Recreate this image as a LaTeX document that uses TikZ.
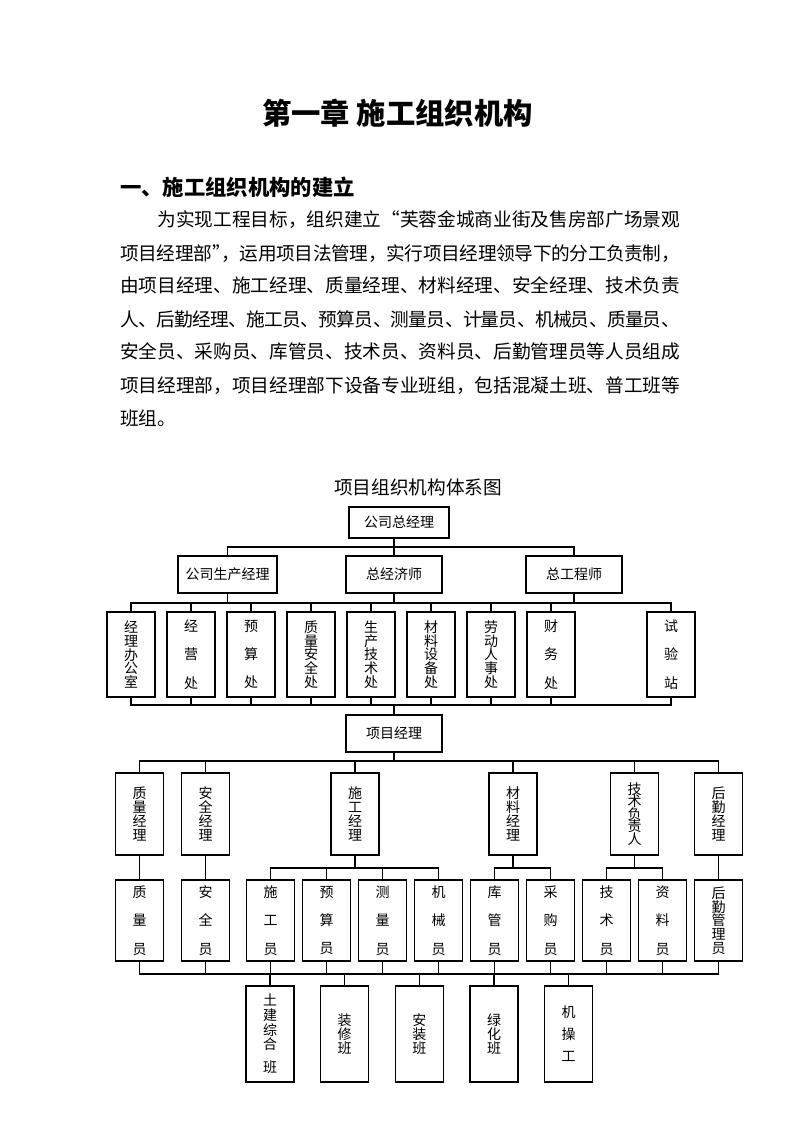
\documentclass[tikz,border=0pt]{standalone}
\usepackage{fontspec}
\setmainfont{Noto Sans CJK SC}
\usetikzlibrary{positioning}
\XeTeXlinebreaklocale "zh"
\XeTeXlinebreakskip=0pt plus 2pt minus 1pt

\begin{document}
\begin{tikzpicture}[
  x=0.75pt,y=-0.75pt,
  node distance=9pt,
  box/.style={draw,line width=0.8pt,inner sep=0pt,outer sep=0pt,font={\fontsize{10.5pt}{12pt}\selectfont}},
  col/.style={box,align=center,minimum width=36pt},
  dept/.style={col,minimum height=63.75pt},
  mgr/.style={col,minimum height=61.5pt},
  staff/.style={col,minimum height=60.75pt},
  team/.style={col,minimum height=72pt},
  tight/.style={font={\fontsize{10.5pt}{10.3pt}\selectfont\lineskiplimit=-20pt}},
  mid/.style={font={\fontsize{10.5pt}{16.5pt}\selectfont\lineskiplimit=-20pt}},
  loose/.style={font={\fontsize{10.5pt}{21.3pt}\selectfont\lineskiplimit=-20pt}},
  link/.style={line width=0.8pt}
]
\useasboundingbox (0,0) rectangle (794,1123);

% heading and text
\node[font={\fontsize{22pt}{26pt}\selectfont\bfseries}] (chap) at (397.5,113) {第一章 施工组织机构};
\node[anchor=west,inner sep=0pt,font={\fontsize{16pt}{20pt}\selectfont\bfseries}] (sec) at (120,187) {一、施工组织机构的建立};
\node[anchor=base west,inner sep=0pt,text width=420pt,align=justify,font={\fontsize{14pt}{24.75pt}\selectfont}] (para) at (120,227) {\hspace*{28pt}为实现工程目标，组织建立“芙蓉金城商业街及售房部广场景观\linebreak
项目经理部”\kern-7pt，运用项目法管理，实行项目经理领导下的分工负责制，\linebreak
由项目经理、施工经理、质量经理、材料经理、安全经理、技术负责\linebreak
人、后勤经理、施工员、预算员、测量员、计量员、机械员、质量员、\linebreak
安全员、采购员、库管员、技术员、资料员、后勤管理员等人员组成\linebreak
项目经理部，项目经理部下设备专业班组，包括混凝土班、普工班等\linebreak
班组。};
\node[font={\fontsize{14pt}{16pt}\selectfont}] (chart) at (418,487) {项目组织机构体系图};

% company level
\node[box,minimum width=75pt,minimum height=23.25pt] (gszjl) at (399,522.5) {公司总经理};
\node[box,minimum width=74.25pt,minimum height=27.75pt] (scjl) at (227.5,574.5) {公司生产经理};
\node[box,minimum width=72pt,minimum height=27.75pt] (zjjs) at (394,574.5) {总经济师};
\node[box,minimum width=72pt,minimum height=27.75pt] (zgcs) at (574,574.5) {总工程师};

% departments
\node[dept,tight] (jlbgs) at (131,654.5) {经\\理\\办\\公\\室};
\node[dept,loose,right=of jlbgs] (jyc) {经\\营\\处};
\node[dept,loose,right=of jyc] (ysc) {预\\算\\处};
\node[dept,tight,right=of ysc] (zlaq) {质\\量\\安\\全\\处};
\node[dept,tight,right=of zlaq] (scjs) {生\\产\\技\\术\\处};
\node[dept,tight,right=of scjs] (clsb) {材\\料\\设\\备\\处};
\node[dept,tight,right=of clsb] (ldrs) {劳\\动\\人\\事\\处};
\node[dept,loose,right=of ldrs] (cwc) {财\\务\\处};
\node[dept,loose,right=54pt of cwc] (syz) {试\\验\\站};

\node[box,minimum width=72pt,minimum height=27.75pt] (xmjl) at (394,733.5) {项目经理};

% project managers
\node[mgr,tight] (zljl) at (139.5,814) {质\\量\\经\\理};
\node[mgr,tight] (aqjl) at (205.5,814) {安\\全\\经\\理};
\node[mgr,tight] (sgjl) at (355,814) {施\\工\\经\\理};
\node[mgr,tight] (cljl) at (513,814) {材\\料\\经\\理};
\node[mgr,font={\fontsize{10.5pt}{9.3pt}\selectfont\lineskiplimit=-20pt}] (jsfz) at (634.5,814) {技\\术\\负\\责\\人};
\node[mgr,tight] (hqjl) at (718.5,814) {后\\勤\\经\\理};

% staff
\node[staff,loose] (zly) at (139.5,920.5) {质\\量\\员};
\node[staff,loose] (aqy) at (205.5,920.5) {安\\全\\员};
\node[staff,loose] (sgy) at (270.5,920.5) {施\\工\\员};
\node[staff,loose,right=6pt of sgy] (ysy) {预\\算\\员};
\node[staff,loose,right=6pt of ysy] (cly) {测\\量\\员};
\node[staff,loose,right=6pt of cly] (jxy) {机\\械\\员};
\node[staff,loose,right=6pt of jxy] (kgy) {库\\管\\员};
\node[staff,loose,right=6pt of kgy] (cgy) {采\\购\\员};
\node[staff,loose,right=6pt of cgy] (jsy) {技\\术\\员};
\node[staff,loose,right=6pt of jsy] (zlly) {资\\料\\员};
\node[staff,tight,right=6pt of zlly] (hqgly) {后\\勤\\管\\理\\员};

% teams
\node[team,font={\fontsize{10.5pt}{11pt}\selectfont\lineskiplimit=-20pt}] (tj) at (270,1034) {土\\建\\综\\合\\[6pt]班};
\node[team,tight,right=20pt of tj] (zx) {装\\修\\班};
\node[team,tight,right=20pt of zx] (az) {安\\装\\班};
\node[team,tight,right=20pt of az] (lh) {绿\\化\\班};
\node[team,mid,right=20pt of lh] (jcg) {机\\操\\工};

% connectors
\coordinate (b1) at (0,547);
\coordinate (b2) at (0,603);
\coordinate (b3) at (0,705);
\coordinate (b4) at (0,761);
\coordinate (b5) at (0,868);
\coordinate (b6) at (0,974);

\draw[link] (scjl.north) -- (scjl.north |- b1) -- (zgcs.north |- b1) -- (zgcs.north);
\draw[link] (zjjs.north) -- (zjjs.north |- gszjl.south);

\draw[link] (jlbgs.north) -- (jlbgs.north |- b2) -- (syz.north |- b2) -- (syz.north);
\draw[link] (scjl.south) -- (scjl.south |- b2) (zjjs.south) -- (zjjs.south |- b2) (zgcs.south) -- (zgcs.south |- b2);
\draw[link] (jyc.north) -- (jyc.north |- b2) (ysc.north) -- (ysc.north |- b2) (zlaq.north) -- (zlaq.north |- b2)
  (scjs.north) -- (scjs.north |- b2) (clsb.north) -- (clsb.north |- b2) (ldrs.north) -- (ldrs.north |- b2)
  (cwc.north) -- (cwc.north |- b2);

\draw[link] (jlbgs.south) -- (jlbgs.south |- b3) -- (syz.south |- b3) -- (syz.south);
\draw[link] (jyc.south) -- (jyc.south |- b3) (ysc.south) -- (ysc.south |- b3) (zlaq.south) -- (zlaq.south |- b3)
  (scjs.south) -- (scjs.south |- b3) (clsb.south) -- (clsb.south |- b3) (ldrs.south) -- (ldrs.south |- b3)
  (cwc.south) -- (cwc.south |- b3);
\draw[link] (xmjl.north) -- (xmjl.north |- b3);

\draw[link] (zljl.north) -- (zljl.north |- b4) -- (hqjl.north |- b4) -- (hqjl.north);
\draw[link] (xmjl.south) -- (xmjl.south |- b4);
\draw[link] (aqjl.north) -- (aqjl.north |- b4) (sgjl.north) -- (sgjl.north |- b4)
  (cljl.north) -- (cljl.north |- b4) (jsfz.north) -- (jsfz.north |- b4);

\draw[link] (zljl.south) -- (zly.north);
\draw[link] (aqjl.south) -- (aqy.north);
\draw[link] (hqjl.south) -- (hqgly.north);
\draw[link] (sgjl.south) -- (sgjl.south |- b5);
\draw[link] (sgy.north) -- (sgy.north |- b5) -- (jxy.north |- b5) -- (jxy.north);
\draw[link] (ysy.north) -- (ysy.north |- b5) (cly.north) -- (cly.north |- b5);
\draw[link] (cljl.south) -- (cljl.south |- b5);
\draw[link] (kgy.north) -- (kgy.north |- b5) -- (cgy.north |- b5) -- (cgy.north);
\draw[link] (jsfz.south) -- (jsfz.south |- b5);
\draw[link] (jsy.north) -- (jsy.north |- b5) -- (zlly.north |- b5) -- (zlly.north);

\draw[link] (zly.south) -- (zly.south |- b6) -- (hqgly.south |- b6) -- (hqgly.south);
\draw[link] (aqy.south) -- (aqy.south |- b6) (sgy.south) -- (sgy.south |- b6) (ysy.south) -- (ysy.south |- b6)
  (cly.south) -- (cly.south |- b6) (jxy.south) -- (jxy.south |- b6) (kgy.south) -- (kgy.south |- b6)
  (cgy.south) -- (cgy.south |- b6) (jsy.south) -- (jsy.south |- b6) (zlly.south) -- (zlly.south |- b6);
\draw[link] (tj.north) -- (tj.north |- b6) (zx.north) -- (zx.north |- b6) (az.north) -- (az.north |- b6)
  (lh.north) -- (lh.north |- b6) (jcg.north) -- (jcg.north |- b6);
\end{tikzpicture}
\end{document}
